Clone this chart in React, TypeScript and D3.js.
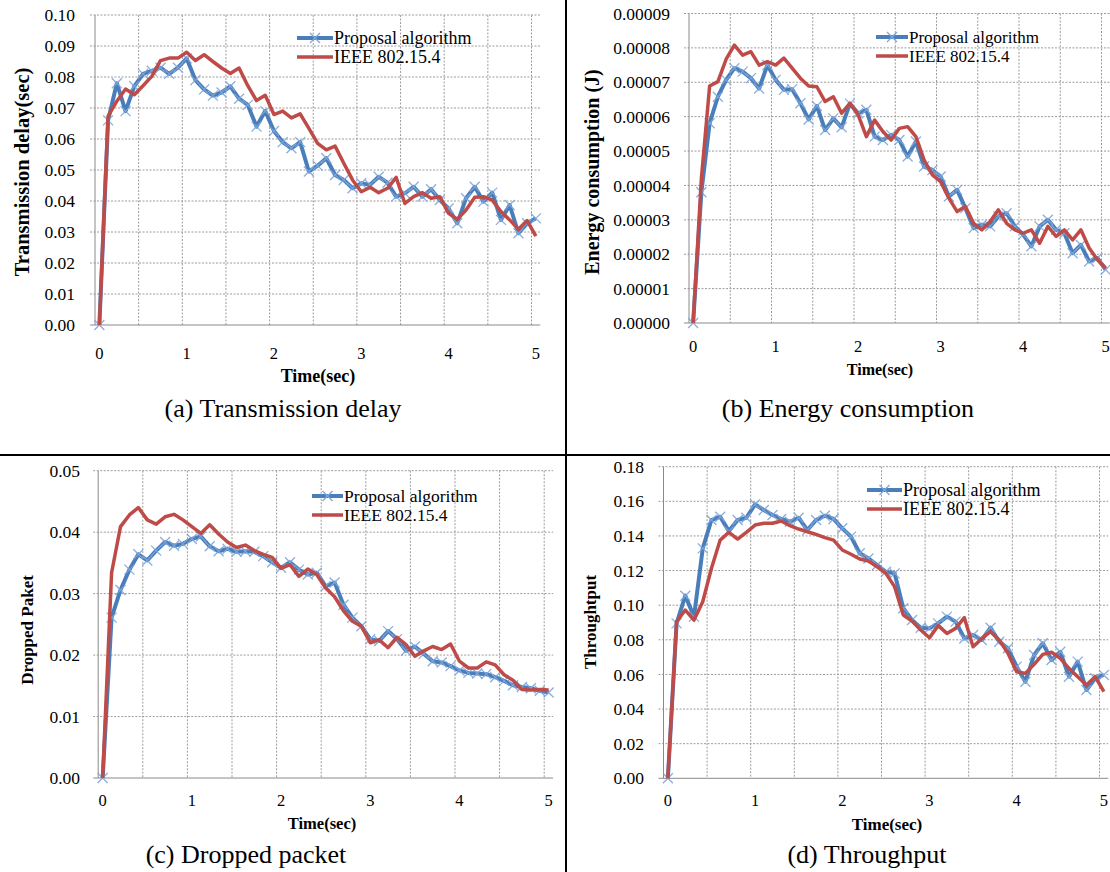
import { useEffect, useRef } from 'react';
import * as d3 from 'd3';

// simulation time, one category every 0.1 s
const timeCategories = [
  0, 0.1, 0.2, 0.3, 0.4, 0.5, 0.6, 0.7, 0.8, 0.9, 1, 1.1, 1.2, 1.3, 1.4, 1.5, 1.6, 1.7, 1.8, 1.9,
  2, 2.1, 2.2, 2.3, 2.4, 2.5, 2.6, 2.7, 2.8, 2.9, 3, 3.1, 3.2, 3.3, 3.4, 3.5, 3.6, 3.7, 3.8, 3.9,
  4, 4.1, 4.2, 4.3, 4.4, 4.5, 4.6, 4.7, 4.8, 4.9, 5,
];
const xTickLabels = [0, 1, 2, 3, 4, 5];
const seriesNames = ['Proposal algorithm', 'IEEE 802.15.4'];

const delayTicks = [0, 0.01, 0.02, 0.03, 0.04, 0.05, 0.06, 0.07, 0.08, 0.09, 0.1];
const delayProposal = [
  0, 0.066, 0.078, 0.069, 0.077, 0.081, 0.082, 0.083, 0.081, 0.083, 0.086, 0.079, 0.076, 0.074, 0.075,
  0.077, 0.073, 0.071, 0.064, 0.069, 0.0626, 0.059, 0.057, 0.059, 0.0495, 0.0514, 0.0538, 0.0484, 0.0468,
  0.0441, 0.0457, 0.0452, 0.0478, 0.0459, 0.0414, 0.0425, 0.0446, 0.0414, 0.0438, 0.0403, 0.0376, 0.0328,
  0.0409, 0.0446, 0.0398, 0.0427, 0.0339, 0.0387, 0.0296, 0.0328, 0.0344,
];
const delayIeee = [
  0, 0.0674, 0.0722, 0.0761, 0.0743, 0.0772, 0.0802, 0.0853, 0.0861, 0.0861, 0.088, 0.0853, 0.0872, 0.085,
  0.0829, 0.0811, 0.0829, 0.0772, 0.0724, 0.0741, 0.0679, 0.069, 0.0668, 0.0681, 0.0634, 0.0586, 0.0565,
  0.0577, 0.0522, 0.0468, 0.043, 0.0444, 0.0427, 0.0441, 0.0476, 0.0392, 0.0414, 0.0427, 0.0409, 0.0414,
  0.036, 0.0341, 0.0371, 0.0412, 0.0414, 0.0403, 0.0366, 0.0339, 0.0309, 0.0337, 0.0287,
];

const energyTicks = [0, 1e-5, 2e-5, 3e-5, 4e-5, 5e-5, 6e-5, 7e-5, 8e-5, 9e-5];
const energyProposal = [
  0, 3.8e-5, 5.81e-5, 6.58e-5, 7.07e-5, 7.41e-5, 7.31e-5, 7.12e-5, 6.82e-5, 7.5e-5, 7.07e-5, 6.78e-5,
  6.8e-5, 6.39e-5, 5.92e-5, 6.31e-5, 5.61e-5, 5.95e-5, 5.69e-5, 6.38e-5, 6.1e-5, 6.2e-5, 5.42e-5, 5.32e-5,
  5.47e-5, 5.32e-5, 4.84e-5, 5.28e-5, 4.55e-5, 4.45e-5, 4.26e-5, 3.68e-5, 3.87e-5, 3.34e-5, 2.76e-5,
  2.86e-5, 2.81e-5, 3.1e-5, 3.19e-5, 2.81e-5, 2.57e-5, 2.23e-5, 2.81e-5, 3.0e-5, 2.71e-5, 2.61e-5,
  2.03e-5, 2.27e-5, 1.79e-5, 1.89e-5, 1.55e-5,
];
const energyIeee = [
  0, 4.2e-5, 6.89e-5, 7.02e-5, 7.67e-5, 8.08e-5, 7.79e-5, 7.89e-5, 7.5e-5, 7.6e-5, 7.5e-5, 7.7e-5,
  7.41e-5, 7.12e-5, 6.89e-5, 6.87e-5, 6.44e-5, 6.58e-5, 6.1e-5, 6.39e-5, 6.05e-5, 5.42e-5, 5.9e-5,
  5.57e-5, 5.32e-5, 5.66e-5, 5.71e-5, 5.42e-5, 4.74e-5, 4.31e-5, 4.11e-5, 3.63e-5, 3.24e-5, 3.39e-5,
  2.9e-5, 2.71e-5, 2.95e-5, 3.29e-5, 2.9e-5, 2.71e-5, 2.61e-5, 2.71e-5, 2.32e-5, 2.81e-5, 2.52e-5,
  2.71e-5, 2.42e-5, 2.71e-5, 2.18e-5, 1.84e-5, 1.6e-5,
];

const droppedTicks = [0, 0.01, 0.02, 0.03, 0.04, 0.05];
const droppedProposal = [
  0, 0.0261, 0.0306, 0.0339, 0.0364, 0.0354, 0.037, 0.0384, 0.0378, 0.0381, 0.0389, 0.0393, 0.0377,
  0.0369, 0.0373, 0.0368, 0.0369, 0.0368, 0.0361, 0.0351, 0.0342, 0.0351, 0.0339, 0.0331, 0.0334, 0.0312,
  0.0318, 0.0282, 0.0261, 0.0247, 0.0226, 0.0223, 0.0239, 0.0226, 0.0207, 0.0214, 0.0202, 0.019, 0.0188,
  0.0182, 0.0175, 0.0171, 0.017, 0.0169, 0.0164, 0.0158, 0.0151, 0.0148, 0.0146, 0.0142, 0.0139,
];
const droppedIeee = [
  0, 0.0334, 0.0409, 0.0428, 0.044, 0.042, 0.0413, 0.0425, 0.0429, 0.042, 0.0409, 0.0398, 0.0412, 0.0397,
  0.0384, 0.0375, 0.0379, 0.037, 0.0364, 0.0359, 0.0341, 0.0347, 0.0328, 0.034, 0.0331, 0.0309, 0.0295,
  0.0272, 0.0255, 0.0247, 0.022, 0.0225, 0.0212, 0.0229, 0.0217, 0.0198, 0.0207, 0.0214, 0.0209, 0.0218,
  0.019, 0.0179, 0.0179, 0.0189, 0.0184, 0.0168, 0.0159, 0.0144, 0.0143, 0.0144, 0.0143,
];

const throughputTicks = [0, 0.02, 0.04, 0.06, 0.08, 0.1, 0.12, 0.14, 0.16, 0.18];
const throughputProposal = [
  0, 0.0895, 0.1055, 0.0934, 0.1328, 0.1492, 0.1511, 0.1428, 0.1492, 0.1505, 0.1582, 0.155, 0.1521, 0.1498,
  0.1482, 0.1505, 0.1434, 0.1492, 0.1517, 0.1498, 0.1444, 0.1396, 0.13, 0.127, 0.1232, 0.1193, 0.1184,
  0.0982, 0.0914, 0.087, 0.0866, 0.0895, 0.0934, 0.0905, 0.0808, 0.0828, 0.0799, 0.087, 0.0789, 0.0751,
  0.0645, 0.0558, 0.0712, 0.078, 0.0683, 0.0731, 0.0587, 0.0674, 0.051, 0.0578, 0.0597,
];
const throughputIeee = [
  0, 0.0905, 0.0972, 0.0914, 0.102, 0.1213, 0.1376, 0.1421, 0.1382, 0.1421, 0.1463, 0.1473, 0.1473, 0.1486,
  0.1459, 0.144, 0.1424, 0.1409, 0.139, 0.1376, 0.1319, 0.1294, 0.1267, 0.1255, 0.1222, 0.1184, 0.1107,
  0.0943, 0.0909, 0.0857, 0.0812, 0.0882, 0.0837, 0.0866, 0.0928, 0.076, 0.0808, 0.0847, 0.0799, 0.0722,
  0.0616, 0.0606, 0.0658, 0.0716, 0.0728, 0.0693, 0.0635, 0.0587, 0.0539, 0.0587, 0.05,
];

const BLUE = '#4a7ebb';
const RED = '#be4b48';
const MARK = '#7fa7d9';
const FONT = '"Liberation Serif", "DejaVu Serif", serif';

const panels = [
  {
    proposal: delayProposal, ieee: delayIeee, ticks: delayTicks, fmt: '.2f',
    yTitle: 'Transmission delay(sec)', caption: '(a) Transmission delay',
    left: 95, step: 8.73, top: 15, bottom: 325, labelRight: 75,
    xTickY: 359, xTitle: [318, 382, 18], captionPos: [283, 417], yTitlePos: [22, 172, 20.5],
    legend: [297, 38, 36, 18],
  },
  {
    proposal: energyProposal, ieee: energyIeee, ticks: energyTicks, fmt: '.5f',
    yTitle: 'Energy consumption (J)', caption: '(b) Energy consumption',
    left: 689, step: 8.25, top: 13.5, bottom: 323, labelRight: 670,
    xTickY: 352, xTitle: [880, 375, 16], captionPos: [848, 417], yTitlePos: [592, 172, 20],
    legend: [876, 37, 32, 17],
  },
  {
    proposal: droppedProposal, ieee: droppedIeee, ticks: droppedTicks, fmt: '.2f',
    yTitle: 'Dropped Paket', caption: '(c) Dropped packet',
    left: 98.2, step: 8.92, top: 470.7, bottom: 778, labelRight: 80,
    xTickY: 806, xTitle: [322, 829, 16.5], captionPos: [246, 863], yTitlePos: [27, 630, 17],
    legend: [312, 496, 31, 17.5],
  },
  {
    proposal: throughputProposal, ieee: throughputIeee, ticks: throughputTicks, fmt: '.2f',
    yTitle: 'Throughtput', caption: '(d) Throughput',
    left: 663.5, step: 8.72, top: 466.7, bottom: 778.3, labelRight: 644,
    xTickY: 806, xTitle: [887, 830, 17], captionPos: [867, 863], yTitlePos: [590, 622, 17],
    legend: [867, 490, 35, 18],
  },
];

const xMark = (s) => `M${-s},${-s}L${s},${s}M${-s},${s}L${s},${-s}`;

function drawPanel(root, p) {
  const g = root.append('g');
  const right = p.left + timeCategories.length * p.step;

  const x = d3.scaleBand().domain(timeCategories).range([p.left, right]).padding(0);
  const half = x.bandwidth() / 2;
  const cx = (d) => x(d) + half;

  const yMax = p.ticks[p.ticks.length - 1];
  const y = d3.scaleLinear().domain([0, yMax]).range([p.bottom, p.top]);

  // dashed grid: horizontal at every tick (sticking out left as tick marks), vertical every 5 categories
  g.append('g')
    .selectAll('line')
    .data(p.ticks.slice(1))
    .enter()
    .append('line')
    .attr('x1', p.left - 5)
    .attr('x2', right)
    .attr('y1', (d) => y(d))
    .attr('y2', (d) => y(d))
    .attr('stroke', '#9c9c9c')
    .attr('stroke-dasharray', '2,1.5');

  g.append('g')
    .selectAll('line')
    .data(timeCategories.filter((d, i) => i > 0 && i % 5 === 0))
    .enter()
    .append('line')
    .attr('x1', (d) => x(d))
    .attr('x2', (d) => x(d))
    .attr('y1', p.top)
    .attr('y2', p.bottom)
    .attr('stroke', '#9c9c9c')
    .attr('stroke-dasharray', '2,1.5');

  // axes
  g.append('line')
    .attr('x1', p.left).attr('x2', p.left)
    .attr('y1', p.top).attr('y2', p.bottom)
    .attr('stroke', '#8a8a8a');
  g.append('line')
    .attr('x1', p.left - 5).attr('x2', right)
    .attr('y1', p.bottom).attr('y2', p.bottom)
    .attr('stroke', '#8a8a8a');

  const fmt = d3.format(p.fmt);
  g.append('g')
    .selectAll('text')
    .data(p.ticks)
    .enter()
    .append('text')
    .attr('x', p.labelRight)
    .attr('y', (d) => y(d))
    .attr('dy', '0.35em')
    .attr('text-anchor', 'end')
    .style('font-family', FONT)
    .style('font-size', '17.5px')
    .text((d) => fmt(d));

  g.append('g')
    .selectAll('text')
    .data(xTickLabels)
    .enter()
    .append('text')
    .attr('x', (d) => cx(d))
    .attr('y', p.xTickY)
    .attr('text-anchor', 'middle')
    .style('font-family', FONT)
    .style('font-size', '16.5px')
    .text((d) => d);

  g.append('text')
    .attr('x', p.xTitle[0])
    .attr('y', p.xTitle[1])
    .attr('text-anchor', 'middle')
    .style('font-family', FONT)
    .style('font-size', `${p.xTitle[2]}px`)
    .style('font-weight', 'bold')
    .text('Time(sec)');

  g.append('text')
    .attr('transform', `translate(${p.yTitlePos[0]},${p.yTitlePos[1]}) rotate(-90)`)
    .attr('dy', '0.35em')
    .attr('text-anchor', 'middle')
    .style('font-family', FONT)
    .style('font-size', `${p.yTitlePos[2]}px`)
    .style('font-weight', 'bold')
    .text(p.yTitle);

  g.append('text')
    .attr('x', p.captionPos[0])
    .attr('y', p.captionPos[1])
    .attr('text-anchor', 'middle')
    .style('font-family', FONT)
    .style('font-size', '26px')
    .text(p.caption);

  // series
  const line = d3
    .line()
    .x((d, i) => cx(timeCategories[i]))
    .y((d) => y(d));

  g.append('path')
    .datum(p.proposal)
    .attr('d', line)
    .attr('fill', 'none')
    .attr('stroke', BLUE)
    .attr('stroke-width', 4)
    .attr('stroke-linejoin', 'round');

  g.append('g')
    .selectAll('path')
    .data(p.proposal)
    .enter()
    .append('path')
    .attr('d', xMark(5))
    .attr('transform', (d, i) => `translate(${cx(timeCategories[i])},${y(d)})`)
    .attr('stroke', MARK)
    .attr('stroke-width', 1.3)
    .attr('opacity', 0.9);

  g.append('path')
    .datum(p.ieee)
    .attr('d', line)
    .attr('fill', 'none')
    .attr('stroke', RED)
    .attr('stroke-width', 3.5)
    .attr('stroke-linejoin', 'round');

  // legend
  const [lx, ly, len, fs] = p.legend;
  const rowGap = 19;
  [BLUE, RED].forEach((color, k) => {
    const yy = ly + k * rowGap;
    g.append('line')
      .attr('x1', lx).attr('x2', lx + len)
      .attr('y1', yy).attr('y2', yy)
      .attr('stroke', color)
      .attr('stroke-width', k === 0 ? 4 : 3.5);
    if (k === 0) {
      g.append('path')
        .attr('d', xMark(5))
        .attr('transform', `translate(${lx + len / 2},${yy})`)
        .attr('stroke', MARK)
        .attr('stroke-width', 1.3);
    }
    g.append('text')
      .attr('x', lx + len + 1)
      .attr('y', yy)
      .attr('dy', '0.35em')
      .style('font-family', FONT)
      .style('font-size', `${fs}px`)
      .text(seriesNames[k]);
  });
}

export default function App() {
  const svgRef = useRef(null);

  useEffect(() => {
    const svg = d3.select(svgRef.current);
    svg.selectAll('*').remove();

    svg.append('rect').attr('width', 1110).attr('height', 872).attr('fill', '#fff');

    panels.forEach((p) => drawPanel(svg, p));

    // table borders between the four figures
    svg.append('line')
      .attr('x1', 566).attr('x2', 566).attr('y1', 0).attr('y2', 872)
      .attr('stroke', '#000').attr('stroke-width', 2);
    svg.append('line')
      .attr('x1', 0).attr('x2', 1110).attr('y1', 455).attr('y2', 455)
      .attr('stroke', '#000').attr('stroke-width', 2);
  }, []);

  return (
    <svg
      ref={svgRef}
      width={1110}
      height={872}
      style={{ position: 'absolute', left: 0, top: 0 }}
    />
  );
}
